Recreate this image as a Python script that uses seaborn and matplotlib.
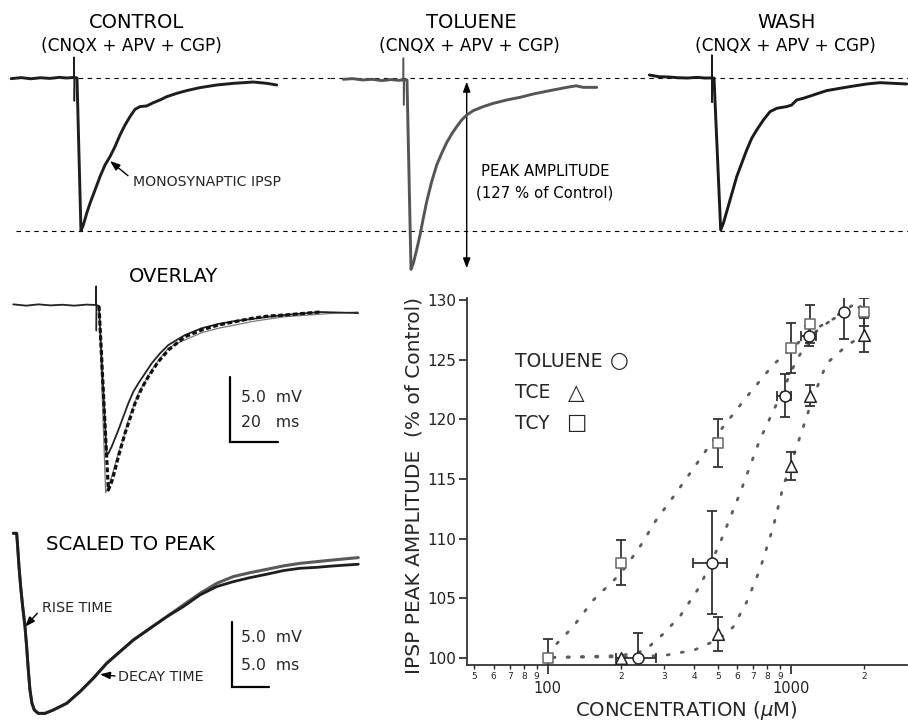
import matplotlib
matplotlib.use("Agg")
import matplotlib.pyplot as plt
import seaborn as sns
from matplotlib.ticker import FixedLocator, FixedFormatter, NullLocator

# ---------------- dose-response data ----------------
tol_conc = [235, 472, 942, 1186, 1648]
tol_amp = [100.0, 108.0, 122.0, 127.0, 129.0]
tol_yerr = [2.1, 4.3, 1.8, 0.8, 2.25]
tol_xerr = [44, 75, 63, 85, 0]

tce_conc = [200, 500, 1000, 1200, 2000]
tce_amp = [100.0, 102.0, 116.1, 122.0, 127.1]
tce_yerr = [0.0, 1.4, 1.2, 0.9, 1.4]

tcy_conc = [100, 200, 500, 1000, 1200, 2000]
tcy_amp = [100.0, 108.0, 118.0, 126.0, 128.0, 129.0]
tcy_yerr = [1.6, 1.9, 2.0, 2.1, 1.6, 1.2]

# fitted curves
tcy_fit_conc = [109, 127, 154, 200, 239, 280, 328, 385, 500, 658, 846, 1024, 1236, 1592, 2000]
tcy_fit_amp = [101.2, 102.6, 104.85, 107.1, 109.3, 111.6, 113.5, 115.5, 118.8, 121.9, 124.6, 126.1, 127.5, 128.75, 129.6]
tol_fit_conc = [105, 200, 250, 298, 350, 422, 510, 617, 745, 901, 1055, 1236, 1589, 1800]
tol_fit_amp = [100.05, 100.2, 100.6, 102.0, 103.5, 106.0, 109.6, 113.8, 118.3, 121.9, 125.0, 127.2, 128.9, 129.6]
tce_fit_conc = [105, 200, 300, 400, 507, 579, 658, 745, 846, 930, 1055, 1236, 1402, 1695, 2000]
tce_fit_amp = [100.05, 100.1, 100.2, 100.66, 101.6, 102.6, 104.7, 107.4, 111.0, 114.4, 117.7, 121.9, 124.7, 126.2, 127.1]

minor_ticks = [50, 60, 70, 80, 90, 200, 300, 400, 500, 600, 700, 800, 900, 2000]
minor_labels = ["5", "6", "7", "8", "9", "2", "3", "4", "5", "6", "7", "8", "9", "2"]
major_ticks = [100, 1000]
major_labels = ["100", "1000"]
y_ticks = [100, 105, 110, 115, 120, 125, 130]

# ---------------- example traces (time in ms, membrane potential in mV) ----------------
art_t = [0, 0.05, 0.15, 0.3]
ctrl_art_v = [0, 1.6, -1.77, 0]
tol_art_v = [-0.15, 1.54, -2.08, -0.15]
wash_art_v = [0, 1.77, -1.87, 0]
ov_art_v = [0, 1.46, -1.98, 0]

ctrl_t = [-26.2, -22, -18, -14, -10, -6, -3, 0, 1.25, 2.9, 3.89, 5.28, 6.67, 8.75, 10.83, 12.92,
          15.0, 17.08, 19.17, 21.25, 23.33, 25.42, 27.5, 30.28, 33.06, 35.83, 38.6, 42.8, 46.96,
          52.5, 59.4, 66.4, 74.7, 80.3, 84.5]
ctrl_v = [-0.05, 0.03, -0.06, 0.02, -0.03, 0.05, 0.0, 0.05, 0.0, -11.75, -11.31, -10.41, -9.64,
          -8.62, -7.59, -6.69, -6.05, -5.28, -4.38, -3.62, -2.97, -2.41, -2.2, -2.15, -1.9, -1.69,
          -1.44, -1.18, -0.97, -0.74, -0.54, -0.41, -0.31, -0.41, -0.54]

tol_t = [-25, -21, -17, -13, -9, -5, -2, 0, 1.54, 3.21, 4.17, 5.56, 6.96, 8.33, 9.74, 11.83,
         13.92, 16.0, 18.08, 20.17, 22.25, 24.33, 26.42, 29.17, 33.33, 37.5, 43.08, 48.6, 54.17,
         61.1, 68.1, 72, 75, 80.6]
tol_v = [-0.1, -0.05, -0.15, -0.1, -0.2, -0.12, -0.18, -0.15, -0.15, -14.72, -14.26, -13.23,
         -12.08, -10.79, -9.51, -7.97, -6.69, -5.79, -4.97, -4.31, -3.74, -3.23, -2.85, -2.51,
         -2.2, -1.95, -1.69, -1.49, -1.23, -0.97, -0.72, -0.6, -0.72, -0.72]

wash_t = [-26, -22, -18, -14, -10, -6, -3, 0, 0.96, 3.75, 4.86, 6.25, 7.64, 9.03, 10.42, 12.5,
          14.58, 16.67, 18.75, 21.53, 24.3, 27.1, 31.25, 33.3, 35.4, 38.2, 42.3, 47.9, 53.5, 59,
          64.6, 70.1, 75.7, 81.25]
wash_v = [0.23, 0.1, 0.08, 0.02, 0.0, 0.05, 0.0, 0.0, 0.0, -11.69, -11.18, -10.28, -9.38, -8.49,
          -7.59, -6.56, -5.54, -4.64, -4.0, -3.23, -2.59, -2.33, -2.2, -2.08, -1.69, -1.56, -1.31,
          -0.97, -0.79, -0.62, -0.46, -0.36, -0.41, -0.46]

ov_ctrl_t = [-34.5, -29, -24, -19, -14, -9, -4, 0, 1.25, 4.44, 5.14, 6.53, 7.92, 9.31, 11.39,
             13.47, 15.56, 17.64, 20.42, 23.19, 26.67, 30.14, 33.61, 37.08, 44.03, 50.97, 57.92,
             64.86, 71.8, 78.75, 93.3, 109.2]
ov_ctrl_v = [0.05, -0.05, 0.05, -0.03, 0.02, -0.05, 0.03, 0, -0.08, -11.59, -11.41, -10.9,
             -10.26, -9.62, -8.59, -7.56, -6.67, -6.03, -5.26, -4.49, -3.72, -3.08, -2.69, -2.31,
             -1.79, -1.46, -1.23, -1.08, -0.9, -0.77, -0.54, -0.62]
ov_tol_t = [1.25, 4.03, 5.14, 6.53, 7.92, 9.31, 11.39, 13.47, 15.56, 17.64, 20.42, 23.19, 26.67,
            30.14, 33.61, 37.08, 44.03, 50.97, 57.92, 64.86, 71.8, 78.75, 98.75, 109.2]
ov_tol_v = [-0.08, -14.44, -13.97, -13.21, -12.31, -11.41, -10.26, -8.85, -7.82, -6.79, -5.9,
            -5.0, -4.1, -3.33, -2.95, -2.69, -2.13, -1.79, -1.54, -1.28, -1.08, -0.9, -0.64, -0.54]
ov_wash_t = [1.25, 5.14, 6.53, 7.92, 9.31, 10.69, 12.08, 14.17, 16.25, 19.03, 21.81, 25.97,
             30.14, 33.61, 37.08, 44.03, 50.97, 57.92, 64.86, 71.8, 78.75, 93.3]
ov_wash_v = [-0.08, -14.23, -13.59, -12.69, -11.67, -10.77, -9.87, -8.72, -7.56, -6.41, -5.51,
             -4.36, -3.46, -2.95, -2.44, -1.92, -1.54, -1.28, -1.03, -0.85, -0.77, -0.54]

sc_t = [0, 0.45, 0.58, 0.76, 0.98, 1.25, 1.56, 1.78, 2.0, 2.22, 2.49, 2.8, 3.33, 4.23, 5.33,
        7.12, 8.89, 10.67, 12.45, 14.23, 16.0, 18.23, 20.45, 22.67, 24.9, 27.12, 29.33, 31.56,
        33.79, 36.0, 38.23, 40.45, 42.67, 46.0]
sc_ctrl_v = [0, 0, -1.03, -2.56, -4.1, -5.64, -7.18, -8.72, -10.51, -12.05, -13.08, -13.59,
             -13.85, -13.85, -13.59, -13.08, -12.18, -11.15, -10.0, -9.1, -8.21, -7.31, -6.42,
             -5.64, -4.74, -4.1, -3.72, -3.41, -3.15, -2.87, -2.69, -2.62, -2.51, -2.38]
sc_tol_v = [0, 0, -1.03, -2.56, -4.1, -5.64, -7.18, -8.72, -10.51, -12.05, -13.08, -13.59,
            -13.85, -13.85, -13.59, -13.08, -12.18, -11.15, -10.0, -9.1, -8.21, -7.31, -6.42,
            -5.51, -4.62, -3.85, -3.33, -3.03, -2.77, -2.51, -2.31, -2.18, -2.05, -1.87]

peak_control_mv = -11.75
scale_mv = 5.0
scale_ms_overlay = 20.0
scale_ms_scaled = 5.0

# ---------------- figure ----------------
sns.set_style("ticks")
plt.rcParams["font.family"] = ["DejaVu Sans"]

W, H = 908, 721
fig = plt.figure(figsize=(W / 100, H / 100), dpi=100)


def px_axes(x0, y0, x1, y1):
    return fig.add_axes([x0 / W, 1 - y1 / H, (x1 - x0) / W, (y1 - y0) / H])


# canvas for text annotations (pixel coordinates)
canvas = px_axes(0, 0, W, H)
canvas.set_xlim(0, W)
canvas.set_ylim(H, 0)
canvas.set_axis_off()


def trace_axes(x0, y0, x1, y1, x_zero, y_zero, px_ms, px_mv=13.0):
    a = px_axes(x0, y0, x1, y1)
    a.set_xlim((x0 - x_zero) / px_ms, (x1 - x_zero) / px_ms)
    a.set_ylim(-(y1 - y_zero) / px_mv, (y_zero - y0) / px_mv)
    a.set_axis_off()
    return a


def trace(a, t, v, **kw):
    sns.lineplot(x=t, y=v, ax=a, sort=False, estimator=None, legend=False, **kw)


dash_ref = dict(color="black", linewidth=0.8, linestyle=(0, (4, 4)))

# top row
ax_c = trace_axes(0, 50, 330, 280, 74, 78, 2.4)
ax_t = trace_axes(330, 50, 640, 280, 403.3, 78, 2.4)
ax_w = trace_axes(640, 50, 908, 280, 711.7, 78, 2.4)
for a, xm in [(ax_c, 16 / 330), (ax_t, 0), (ax_w, 0)]:
    a.axhline(0.0, xmin=xm, xmax=1, **dash_ref)
    a.axhline(peak_control_mv, xmin=xm, xmax=1, **dash_ref)

trace(ax_c, ctrl_t, ctrl_v, color="#1e1e1e", linewidth=2.1)
trace(ax_c, art_t, ctrl_art_v, color="#1e1e1e", linewidth=1.1)
trace(ax_t, tol_t, tol_v, color="#555555", linewidth=2.1)
trace(ax_t, art_t, tol_art_v, color="#555555", linewidth=1.1)
trace(ax_w, wash_t, wash_v, color="#1a1a1a", linewidth=2.1)
trace(ax_w, art_t, wash_art_v, color="#1a1a1a", linewidth=1.1)

# overlay
ax_o = trace_axes(0, 280, 380, 500, 96, 305, 2.4)
trace(ax_o, ov_tol_t, ov_tol_v, color="#7a7a7a", linewidth=0.9)
trace(ax_o, ov_ctrl_t, ov_ctrl_v, color="#222222", linewidth=1.3)
trace(ax_o, art_t, ov_art_v, color="#222222", linewidth=1.0)
trace(ax_o, ov_wash_t, ov_wash_v, color="#111111", linewidth=2.3, linestyle=(0, (1.5, 0.8)))
sb_t0, sb_v0 = 55.8, -10.56
ax_o.plot([sb_t0, sb_t0, sb_t0 + scale_ms_overlay], [sb_v0 + scale_mv, sb_v0, sb_v0],
          color="black", linewidth=1.6, solid_joinstyle="miter")

# scaled to peak
ax_s = trace_axes(0, 520, 380, 721, 13.3, 533.3, 7.5)
trace(ax_s, sc_t, sc_tol_v, color="#5a5a5a", linewidth=2.2)
trace(ax_s, sc_t, sc_ctrl_v, color="#1e1e1e", linewidth=2.0)
ss_t0, ss_v0 = 29.12, -11.85
ax_s.plot([ss_t0, ss_t0, ss_t0 + scale_ms_scaled], [ss_v0 + scale_mv, ss_v0, ss_v0],
          color="black", linewidth=1.6, solid_joinstyle="miter")

# texts
tk = dict(ha="center", va="center", color="black")
canvas.text(136, 22, "CONTROL", fontsize=14, **tk)
canvas.text(131.5, 46, "(CNQX + APV + CGP)", fontsize=12.2, **tk)
canvas.text(471, 22, "TOLUENE", fontsize=14, **tk)
canvas.text(469.5, 46, "(CNQX + APV + CGP)", fontsize=12.2, **tk)
canvas.text(787, 22, "WASH", fontsize=14, **tk)
canvas.text(785, 46, "(CNQX + APV + CGP)", fontsize=12.2, **tk)
canvas.text(173, 277, "OVERLAY", fontsize=14, **tk)
canvas.text(131, 545, "SCALED TO PEAK", fontsize=14.2, **tk)
canvas.text(133.3, 182, "MONOSYNAPTIC IPSP", fontsize=10.2, ha="left", va="center")
canvas.text(545, 172, "PEAK AMPLITUDE", fontsize=10.7, **tk)
canvas.text(545, 193, "(127 % of Control)", fontsize=10.7, **tk)
canvas.text(41.7, 608, "RISE TIME", fontsize=10.3, ha="left", va="center")
canvas.text(118.3, 677, "DECAY TIME", fontsize=10.3, ha="left", va="center")
canvas.text(240.7, 397.5, "5.0  mV", fontsize=11.3, ha="left", va="center")
canvas.text(240.7, 422.5, "20   ms", fontsize=11.3, ha="left", va="center")
canvas.text(240.7, 637, "5.0  mV", fontsize=11.3, ha="left", va="center")
canvas.text(240.7, 665, "5.0  ms", fontsize=11.3, ha="left", va="center")

arr = dict(arrowstyle="-|>,head_length=0.6,head_width=0.22", color="black", lw=1.0,
           shrinkA=0, shrinkB=0, mutation_scale=10)
canvas.annotate("", xy=(110, 161), xytext=(128, 175.7), arrowprops=arr)
canvas.annotate("", xy=(25, 626.7), xytext=(37.3, 613.3), arrowprops=arr)
canvas.annotate("", xy=(100, 674.3), xytext=(115, 676), arrowprops=arr)
canvas.annotate("", xy=(466.7, 81.7), xytext=(466.7, 268.3),
                arrowprops=dict(arr, arrowstyle="<|-|>,head_length=0.6,head_width=0.22"))

# ---------------- dose-response chart ----------------
ax = px_axes(467, 298, 907, 665)
ax.set_xscale("log")
ax.set_xlim(46.6, 3000)
ax.set_ylim(99.41, 130.19)

fit_style = dict(color="#5c5c5c", linewidth=2.0, linestyle=(0, (0.75, 4.4)),
                 dash_capstyle="round", zorder=2)
trace(ax, tcy_fit_conc, tcy_fit_amp, **fit_style)
trace(ax, tol_fit_conc, tol_fit_amp, **fit_style)
trace(ax, tce_fit_conc, tce_fit_amp, **fit_style)

eb = dict(fmt="none", ecolor="#333333", elinewidth=1.3, capsize=3.6, capthick=1.3, zorder=3)
ax.errorbar(tol_conc, tol_amp, yerr=tol_yerr, xerr=tol_xerr, **eb)
ax.errorbar(tce_conc, tce_amp, yerr=tce_yerr, **eb)
ax.errorbar(tcy_conc, tcy_amp, yerr=tcy_yerr, **eb)

sns.scatterplot(x=tol_conc, y=tol_amp, ax=ax, marker="o", s=62, color="white",
                edgecolor="#222222", linewidth=1.1, zorder=4, legend=False)
sns.scatterplot(x=tce_conc, y=tce_amp, ax=ax, marker="^", s=70, color="white",
                edgecolor="#222222", linewidth=1.1, zorder=4, legend=False)
sns.scatterplot(x=tcy_conc, y=tcy_amp, ax=ax, marker="s", s=56, color="white",
                edgecolor="#666666", linewidth=1.1, zorder=4, legend=False)

ax.xaxis.set_major_locator(FixedLocator(major_ticks))
ax.xaxis.set_major_formatter(FixedFormatter(major_labels))
ax.xaxis.set_minor_locator(FixedLocator(minor_ticks))
ax.xaxis.set_minor_formatter(FixedFormatter(minor_labels))
ax.set_yticks(y_ticks)
ax.yaxis.set_minor_locator(NullLocator())

for s in ["top", "right"]:
    ax.spines[s].set_visible(False)
for s in ["left", "bottom"]:
    ax.spines[s].set_color("#333333")
    ax.spines[s].set_linewidth(1.3)
ax.patch.set_alpha(0)

ax.tick_params(axis="x", which="major", length=6.2, width=1.2, pad=5.5, labelsize=10.5,
               colors="#222222", direction="out")
ax.tick_params(axis="x", which="minor", length=3.2, width=1.0, pad=2.0, labelsize=6.5,
               colors="#222222", direction="out")
ax.tick_params(axis="y", which="major", length=5.8, width=1.2, pad=2.2, labelsize=11,
               colors="#222222", direction="out")

ax.set_xlabel("CONCENTRATION ($\\mu$M)", fontsize=14.1)
ax.xaxis.set_label_coords(0.498, -0.093)
ax.set_ylabel("IPSP PEAK AMPLITUDE  (% of Control)", fontsize=14.5)
ax.yaxis.set_label_coords(-0.098, 0.49)

# legend as text
leg_fs = 13.5
ax.text(0.109, 0.828, "TOLUENE", transform=ax.transAxes, fontsize=leg_fs, va="center", ha="left")
ax.text(0.109, 0.742, "TCE", transform=ax.transAxes, fontsize=leg_fs, va="center", ha="left")
ax.text(0.109, 0.659, "TCY", transform=ax.transAxes, fontsize=leg_fs, va="center", ha="left")
ax.text(0.345, 0.828, "\u25CB", transform=ax.transAxes, fontsize=15.5, va="center", ha="center")
ax.text(0.248, 0.742, "\u25B3", transform=ax.transAxes, fontsize=15.5, va="center", ha="center")
ax.text(0.249, 0.659, "\u25A1", transform=ax.transAxes, fontsize=15.5, va="center", ha="center")

fig.savefig("out.png", dpi=100)
